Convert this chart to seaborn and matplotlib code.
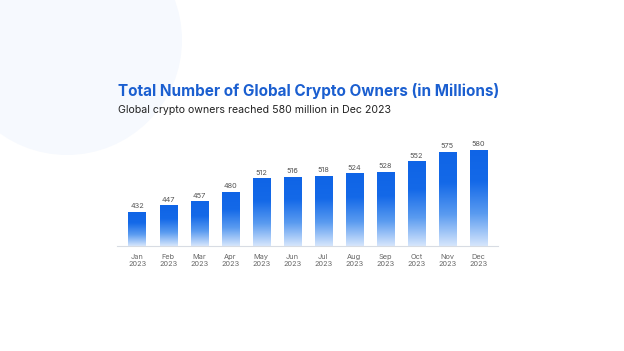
import numpy as np
import pandas as pd
import matplotlib.pyplot as plt
import seaborn as sns
from matplotlib.patches import Ellipse
from matplotlib.colors import LinearSegmentedColormap

# データ
months = ["Jan", "Feb", "Mar", "Apr", "May", "Jun", "Jul", "Aug", "Sep", "Oct", "Nov", "Dec"]
year = "2023"
owners = [432, 447, 457, 480, 512, 516, 518, 524, 528, 552, 575, 580]

data = pd.DataFrame({"month": [f"{m}\n{year}" for m in months], "owners": owners})

sns.set_theme(style="white")
plt.rcParams["font.family"] = ["Inter", "DejaVu Sans"]

W, H = 624, 351
fig = plt.figure(figsize=(W / 100, H / 100), dpi=100)
fig.patch.set_facecolor("white")

# 背景の薄い円
fig.patches.append(Ellipse((67 / W, 1 - 40 / H), 2 * 115 / W, 2 * 115 / H,
                           transform=fig.transFigure, facecolor="#f6f9fe",
                           edgecolor="none", zorder=0))

ax = fig.add_axes([117 / W, 105 / H, 381 / W, 113 / H])
ax.patch.set_alpha(0)

sns.barplot(x="month", y="owners", data=data, width=0.56, color="#1469e8", ax=ax)

# グラデーション
cmap = LinearSegmentedColormap.from_list("blue_grad", ["#d6e6fc", "#5a9bf0", "#1469e8", "#0f64e6"])
grad = np.linspace(1, 0, 256).reshape(-1, 1)
for bar in ax.patches:
    x0, y0 = bar.get_x(), 350
    x1, y1 = bar.get_x() + bar.get_width(), bar.get_y() + bar.get_height()
    im = ax.imshow(grad, extent=[x0, x1, y0, y1], origin="upper", aspect="auto",
                   cmap=cmap, zorder=bar.get_zorder())
    im.set_clip_path(bar)
    bar.set_facecolor("none")
    bar.set_edgecolor("none")

for i, v in enumerate(owners):
    ax.text(i, v + 6, str(v), ha="center", va="bottom", fontsize=5.3, color="#555555")

ax.set_xlim(-0.65, 11.63)
ax.set_ylim(350, 620)
ax.set_yticks([])
ax.set_xlabel("")
ax.set_ylabel("")
ax.tick_params(axis="x", length=0, labelsize=5.3, labelcolor="#666666", pad=6)
for s in ["top", "left", "right"]:
    ax.spines[s].set_visible(False)
ax.spines["bottom"].set_color("#d8dce3")
ax.spines["bottom"].set_linewidth(0.8)

fig.text(118 / W, 1 - 91 / H, "Total Number of Global Crypto Owners (in Millions)",
         fontsize=11, fontweight="bold", color="#1b5fd0", va="center", ha="left")
fig.text(118 / W, 1 - 110 / H, "Global crypto owners reached 580 million in Dec 2023",
         fontsize=7.6, color="#222222", va="center", ha="left")

plt.savefig("out.png", dpi=100)
